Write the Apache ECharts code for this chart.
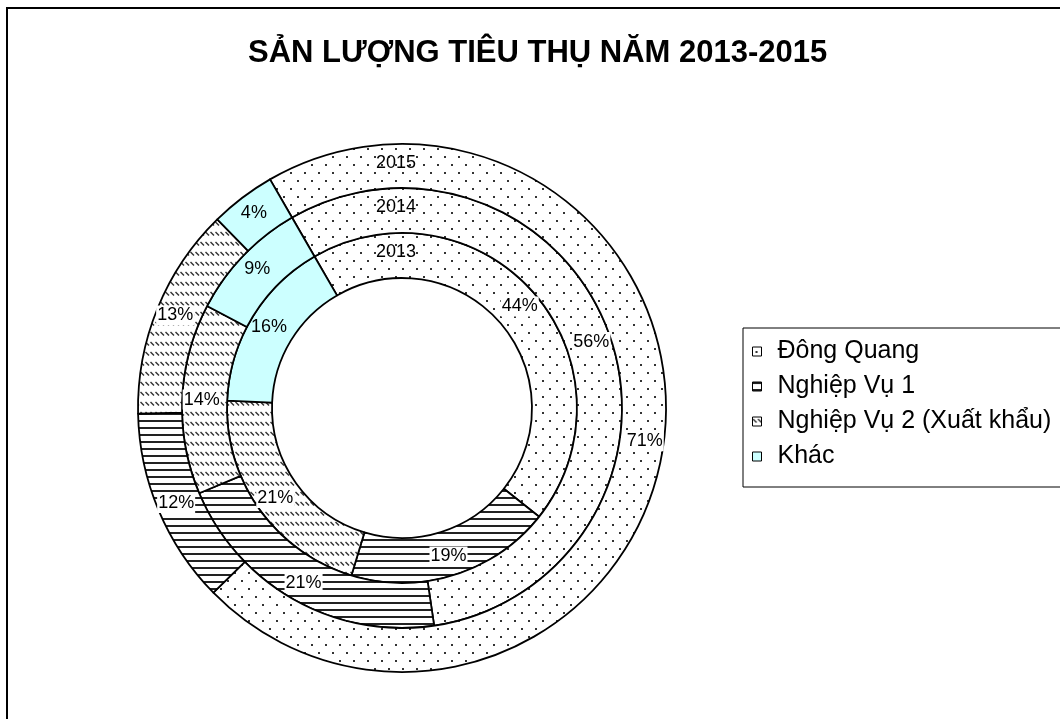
<!DOCTYPE html>
<html>
<head>
<meta charset="utf-8">
<script src="https://cdn.jsdelivr.net/npm/echarts@6/dist/echarts.min.js"></script>
<style>
 html,body{margin:0;padding:0;background:#fff}
 #chart{width:1060px;height:719px}
</style>
</head>
<body>
<div id="chart"></div>
<script>
// du lieu: ty trong san luong (%) theo tung nam, vong trong = 2013
var categories=['Đông Quang','Nghiệp Vụ 1','Nghiệp Vụ 2 (Xuất khẩu)','Khác'];
var years=['2013','2014','2015'];
var share2013=[44,19,21,16];
var share2014=[56,21,14,9];
var share2015=[71,12,13,4];

var FONT='"Liberation Sans", Arial, sans-serif';
var center=[402,408];
var rings=[[130,175],[175,220],[220,264]];

// hoa van kieu Excel (to bang canvas)
function tile(w,h,draw){
 var c=document.createElement('canvas');c.width=w;c.height=h;
 var g=c.getContext('2d');g.fillStyle='#fff';g.fillRect(0,0,w,h);draw(g);
 return {image:c,repeat:'repeat'};
}
var dots=tile(14,16,function(g){g.fillStyle='#333';g.fillRect(3,4,2,2);g.fillRect(10,12,2,2);});
var stripes=tile(8,7,function(g){g.fillStyle='#222';g.fillRect(0,0,8,2);});
var hatch=tile(5,10,function(g){g.strokeStyle='#333';g.lineWidth=1.5;g.beginPath();g.moveTo(0.5,2);g.lineTo(4,5.5);g.stroke();});
var fills=[dots,stripes,hatch,'#ccffff'];
var labelBg=['#fff','#fff','#fff','transparent'];

function ring(vals,i){
 return {
  type:'pie',name:years[i],center:center,radius:rings[i],
  startAngle:120,clockwise:true,silent:true,avoidLabelOverlap:false,
  label:{show:true,position:'inside',formatter:'{c}%',color:'#000',
         fontSize:18,fontFamily:FONT,padding:[1,1]},
  labelLine:{show:false},
  emphasis:{disabled:true},
  itemStyle:{borderColor:'#000',borderWidth:1.8},
  data:categories.map(function(n,k){
   return {name:n,value:vals[k],itemStyle:{color:fills[k]},label:{backgroundColor:labelBg[k]}};
  })
 };
}

var chart=echarts.init(document.getElementById('chart'));
chart.setOption({
 animation:false,
 title:{text:'SẢN LƯỢNG TIÊU THỤ NĂM 2013-2015',left:248,top:38,padding:0,
        textStyle:{fontSize:31,fontWeight:'bold',fontFamily:FONT,color:'#000'}},
 legend:{orient:'vertical',left:743,top:328,data:categories,icon:'rect',
         itemWidth:9,itemHeight:9,itemGap:10,padding:[11,40,18,9],
         borderColor:'#000',borderWidth:1,selectedMode:false,
         itemStyle:{borderColor:'#000',borderWidth:1},
         textStyle:{fontSize:25,lineHeight:25,fontFamily:FONT,color:'#000',padding:[0,0,0,11]}},
 graphic:[
  {type:'rect',silent:true,z:0,shape:{x:7,y:8,width:1100,height:800},
   style:{fill:null,stroke:'#000',lineWidth:2}}
 ].concat(years.map(function(y,i){
  return {type:'text',silent:true,z:100,x:center[0]-6,y:center[1]-(rings[i][0]+rings[i][1])/2-3,
   style:{text:y,fontSize:18,fontFamily:FONT,fill:'#000',align:'center',verticalAlign:'middle'}};
 })),
 series:[share2013,share2014,share2015].map(ring)
});
</script>
</body>
</html>
